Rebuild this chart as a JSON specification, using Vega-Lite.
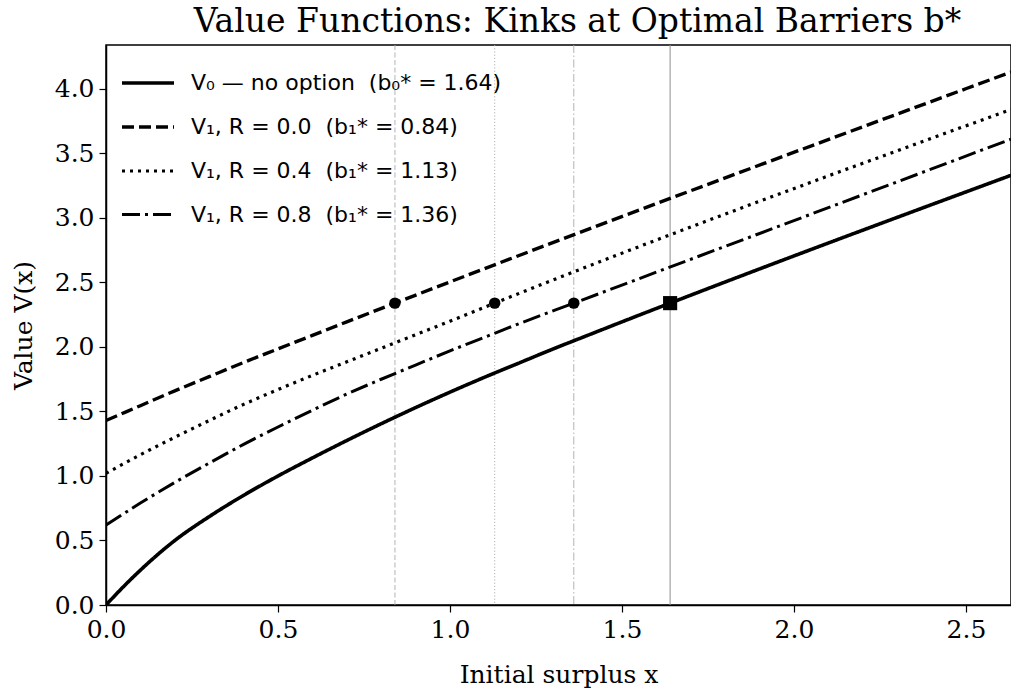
{
  "$schema": "https://vega.github.io/schema/vega-lite/v6.json",
  "width": 905,
  "height": 560,
  "autosize": {"type": "none"},
  "padding": {"left": 106, "top": 45, "right": 0, "bottom": 90},
  "background": "white",
  "title": {
    "text": "Value Functions: Kinks at Optimal Barriers b*",
    "font": "DejaVu Serif",
    "fontSize": 33,
    "fontWeight": "normal",
    "color": "black",
    "anchor": "middle",
    "dx": 19,
    "offset": 5
  },
  "config": {
    "view": {"stroke": "black", "strokeWidth": 1.5},
    "axis": {
      "labelFont": "DejaVu Serif",
      "labelFontSize": 25,
      "labelColor": "black",
      "labelFlush": false,
      "labelOverlap": false,
      "titleFont": "DejaVu Serif",
      "titleFontSize": 25,
      "titleFontWeight": "normal",
      "titleColor": "black",
      "tickColor": "black",
      "tickSize": 7,
      "tickWidth": 1.2,
      "domainColor": "black",
      "domainWidth": 1.5,
      "grid": false
    },
    "legend": {
      "labelFont": "DejaVu Sans",
      "labelFontSize": 22,
      "labelColor": "black",
      "labelLimit": 600
    }
  },
  "datasets": {
    "curves": [
      {"series": "V₀ — no option\u00a0\u00a0(b₀* = 1.64)", "x": 0.0, "v": 0.0},
      {"series": "V₀ — no option\u00a0\u00a0(b₀* = 1.64)", "x": 0.05, "v": 0.14},
      {"series": "V₀ — no option\u00a0\u00a0(b₀* = 1.64)", "x": 0.1, "v": 0.27},
      {"series": "V₀ — no option\u00a0\u00a0(b₀* = 1.64)", "x": 0.2, "v": 0.5},
      {"series": "V₀ — no option\u00a0\u00a0(b₀* = 1.64)", "x": 0.3, "v": 0.685},
      {"series": "V₀ — no option\u00a0\u00a0(b₀* = 1.64)", "x": 0.4, "v": 0.85},
      {"series": "V₀ — no option\u00a0\u00a0(b₀* = 1.64)", "x": 0.5, "v": 1.0},
      {"series": "V₀ — no option\u00a0\u00a0(b₀* = 1.64)", "x": 0.6, "v": 1.14},
      {"series": "V₀ — no option\u00a0\u00a0(b₀* = 1.64)", "x": 0.7, "v": 1.275},
      {"series": "V₀ — no option\u00a0\u00a0(b₀* = 1.64)", "x": 0.8, "v": 1.405},
      {"series": "V₀ — no option\u00a0\u00a0(b₀* = 1.64)", "x": 0.9, "v": 1.53},
      {"series": "V₀ — no option\u00a0\u00a0(b₀* = 1.64)", "x": 1.0, "v": 1.65},
      {"series": "V₀ — no option\u00a0\u00a0(b₀* = 1.64)", "x": 1.1, "v": 1.765},
      {"series": "V₀ — no option\u00a0\u00a0(b₀* = 1.64)", "x": 1.2, "v": 1.875},
      {"series": "V₀ — no option\u00a0\u00a0(b₀* = 1.64)", "x": 1.3, "v": 1.985},
      {"series": "V₀ — no option\u00a0\u00a0(b₀* = 1.64)", "x": 1.4, "v": 2.09},
      {"series": "V₀ — no option\u00a0\u00a0(b₀* = 1.64)", "x": 1.5, "v": 2.195},
      {"series": "V₀ — no option\u00a0\u00a0(b₀* = 1.64)", "x": 1.64, "v": 2.34},
      {"series": "V₀ — no option\u00a0\u00a0(b₀* = 1.64)", "x": 2.631, "v": 3.331},

      {"series": "V₁, R = 0.0\u00a0\u00a0(b₁* = 0.84)", "x": 0.0, "v": 1.43},
      {"series": "V₁, R = 0.0\u00a0\u00a0(b₁* = 0.84)", "x": 0.1, "v": 1.545},
      {"series": "V₁, R = 0.0\u00a0\u00a0(b₁* = 0.84)", "x": 0.2, "v": 1.66},
      {"series": "V₁, R = 0.0\u00a0\u00a0(b₁* = 0.84)", "x": 0.3, "v": 1.77},
      {"series": "V₁, R = 0.0\u00a0\u00a0(b₁* = 0.84)", "x": 0.4, "v": 1.88},
      {"series": "V₁, R = 0.0\u00a0\u00a0(b₁* = 0.84)", "x": 0.5, "v": 1.985},
      {"series": "V₁, R = 0.0\u00a0\u00a0(b₁* = 0.84)", "x": 0.6, "v": 2.09},
      {"series": "V₁, R = 0.0\u00a0\u00a0(b₁* = 0.84)", "x": 0.7, "v": 2.195},
      {"series": "V₁, R = 0.0\u00a0\u00a0(b₁* = 0.84)", "x": 0.84, "v": 2.34},
      {"series": "V₁, R = 0.0\u00a0\u00a0(b₁* = 0.84)", "x": 2.631, "v": 4.131},

      {"series": "V₁, R = 0.4\u00a0\u00a0(b₁* = 1.13)", "x": 0.0, "v": 1.02},
      {"series": "V₁, R = 0.4\u00a0\u00a0(b₁* = 1.13)", "x": 0.1, "v": 1.165},
      {"series": "V₁, R = 0.4\u00a0\u00a0(b₁* = 1.13)", "x": 0.2, "v": 1.3},
      {"series": "V₁, R = 0.4\u00a0\u00a0(b₁* = 1.13)", "x": 0.3, "v": 1.43},
      {"series": "V₁, R = 0.4\u00a0\u00a0(b₁* = 1.13)", "x": 0.4, "v": 1.555},
      {"series": "V₁, R = 0.4\u00a0\u00a0(b₁* = 1.13)", "x": 0.5, "v": 1.67},
      {"series": "V₁, R = 0.4\u00a0\u00a0(b₁* = 1.13)", "x": 0.6, "v": 1.78},
      {"series": "V₁, R = 0.4\u00a0\u00a0(b₁* = 1.13)", "x": 0.7, "v": 1.885},
      {"series": "V₁, R = 0.4\u00a0\u00a0(b₁* = 1.13)", "x": 0.8, "v": 1.99},
      {"series": "V₁, R = 0.4\u00a0\u00a0(b₁* = 1.13)", "x": 0.9, "v": 2.095},
      {"series": "V₁, R = 0.4\u00a0\u00a0(b₁* = 1.13)", "x": 1.0, "v": 2.2},
      {"series": "V₁, R = 0.4\u00a0\u00a0(b₁* = 1.13)", "x": 1.13, "v": 2.34},
      {"series": "V₁, R = 0.4\u00a0\u00a0(b₁* = 1.13)", "x": 2.631, "v": 3.841},

      {"series": "V₁, R = 0.8\u00a0\u00a0(b₁* = 1.36)", "x": 0.0, "v": 0.62},
      {"series": "V₁, R = 0.8\u00a0\u00a0(b₁* = 1.36)", "x": 0.1, "v": 0.79},
      {"series": "V₁, R = 0.8\u00a0\u00a0(b₁* = 1.36)", "x": 0.2, "v": 0.95},
      {"series": "V₁, R = 0.8\u00a0\u00a0(b₁* = 1.36)", "x": 0.3, "v": 1.1},
      {"series": "V₁, R = 0.8\u00a0\u00a0(b₁* = 1.36)", "x": 0.4, "v": 1.245},
      {"series": "V₁, R = 0.8\u00a0\u00a0(b₁* = 1.36)", "x": 0.5, "v": 1.38},
      {"series": "V₁, R = 0.8\u00a0\u00a0(b₁* = 1.36)", "x": 0.6, "v": 1.51},
      {"series": "V₁, R = 0.8\u00a0\u00a0(b₁* = 1.36)", "x": 0.7, "v": 1.635},
      {"series": "V₁, R = 0.8\u00a0\u00a0(b₁* = 1.36)", "x": 0.8, "v": 1.75},
      {"series": "V₁, R = 0.8\u00a0\u00a0(b₁* = 1.36)", "x": 0.9, "v": 1.86},
      {"series": "V₁, R = 0.8\u00a0\u00a0(b₁* = 1.36)", "x": 1.0, "v": 1.97},
      {"series": "V₁, R = 0.8\u00a0\u00a0(b₁* = 1.36)", "x": 1.1, "v": 2.075},
      {"series": "V₁, R = 0.8\u00a0\u00a0(b₁* = 1.36)", "x": 1.2, "v": 2.18},
      {"series": "V₁, R = 0.8\u00a0\u00a0(b₁* = 1.36)", "x": 1.36, "v": 2.34},
      {"series": "V₁, R = 0.8\u00a0\u00a0(b₁* = 1.36)", "x": 2.631, "v": 3.611}
    ],
    "barriers": [
      {"id": "R0", "b": 0.84, "v": 2.34, "marker": "circle"},
      {"id": "R04", "b": 1.13, "v": 2.34, "marker": "circle"},
      {"id": "R08", "b": 1.36, "v": 2.34, "marker": "circle"},
      {"id": "V0", "b": 1.64, "v": 2.34, "marker": "square"}
    ]
  },
  "layer": [
    {
      "data": {"name": "barriers"},
      "transform": [{"filter": "datum.id === 'R0'"}],
      "mark": {"type": "rule", "color": "#aaaaaa", "strokeWidth": 0.9, "strokeDash": [5, 2.5]},
      "encoding": {"x": {"field": "b", "type": "quantitative", "scale": {"domain": [0, 2.631], "nice": false, "zero": false}}}
    },
    {
      "data": {"name": "barriers"},
      "transform": [{"filter": "datum.id === 'R04'"}],
      "mark": {"type": "rule", "color": "#aaaaaa", "strokeWidth": 0.9, "strokeDash": [1.2, 2]},
      "encoding": {"x": {"field": "b", "type": "quantitative"}}
    },
    {
      "data": {"name": "barriers"},
      "transform": [{"filter": "datum.id === 'R08'"}],
      "mark": {"type": "rule", "color": "#aaaaaa", "strokeWidth": 0.9, "strokeDash": [8, 2.5, 1.5, 2.5]},
      "encoding": {"x": {"field": "b", "type": "quantitative"}}
    },
    {
      "data": {"name": "barriers"},
      "transform": [{"filter": "datum.id === 'V0'"}],
      "mark": {"type": "rule", "color": "#999999", "strokeWidth": 1.1},
      "encoding": {"x": {"field": "b", "type": "quantitative"}}
    },
    {
      "data": {"name": "curves"},
      "mark": {"type": "line", "color": "black", "interpolate": "monotone", "strokeCap": "butt", "clip": true},
      "encoding": {
        "x": {
          "field": "x", "type": "quantitative",
          "scale": {"domain": [0, 2.631], "nice": false, "zero": false},
          "axis": {"values": [0, 0.5, 1, 1.5, 2, 2.5], "format": ".1f", "title": "Initial surplus x", "labelPadding": 5, "titlePadding": 20}
        },
        "y": {
          "field": "v", "type": "quantitative",
          "scale": {"domain": [0, 4.341], "nice": false, "zero": false},
          "axis": {"values": [0, 0.5, 1, 1.5, 2, 2.5, 3, 3.5, 4], "format": ".1f", "title": "Value V(x)", "labelPadding": 5, "titlePadding": 18}
        },
        "strokeDash": {
          "field": "series", "type": "nominal",
          "scale": {
            "domain": ["V₀ — no option\u00a0\u00a0(b₀* = 1.64)", "V₁, R = 0.0\u00a0\u00a0(b₁* = 0.84)", "V₁, R = 0.4\u00a0\u00a0(b₁* = 1.13)", "V₁, R = 0.8\u00a0\u00a0(b₁* = 1.36)"],
            "range": [[1, 0], [12, 5], [3, 5], [18, 5, 3, 5]]
          },
          "legend": {
            "title": null,
            "orient": "none",
            "legendX": 14,
            "legendY": 10,
            "symbolType": "stroke",
            "symbolSize": 2704,
            "symbolStrokeColor": "black",
            "symbolStrokeWidth": 3,
            "rowPadding": 5,
            "labelOffset": 15
          }
        },
        "strokeWidth": {
          "field": "series", "type": "nominal",
          "scale": {
            "domain": ["V₀ — no option\u00a0\u00a0(b₀* = 1.64)", "V₁, R = 0.0\u00a0\u00a0(b₁* = 0.84)", "V₁, R = 0.4\u00a0\u00a0(b₁* = 1.13)", "V₁, R = 0.8\u00a0\u00a0(b₁* = 1.36)"],
            "range": [3.6, 3, 3, 3]
          },
          "legend": null
        }
      }
    },
    {
      "data": {"name": "barriers"},
      "transform": [{"filter": "datum.marker === 'circle'"}],
      "mark": {"type": "point", "shape": "circle", "filled": true, "color": "black", "size": 130, "opacity": 1},
      "encoding": {
        "x": {"field": "b", "type": "quantitative"},
        "y": {"field": "v", "type": "quantitative"}
      }
    },
    {
      "data": {"name": "barriers"},
      "transform": [{"filter": "datum.marker === 'square'"}],
      "mark": {"type": "point", "shape": "square", "filled": true, "color": "black", "size": 200, "opacity": 1},
      "encoding": {
        "x": {"field": "b", "type": "quantitative"},
        "y": {"field": "v", "type": "quantitative"}
      }
    }
  ]
}
